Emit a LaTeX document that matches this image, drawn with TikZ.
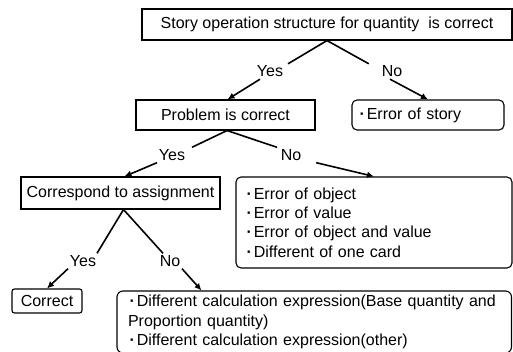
\documentclass[tikz,border=0pt]{standalone}
\usepackage{fontspec}
\setmainfont{Liberation Sans}
\usetikzlibrary{arrows.meta}
\newcommand\fs{\fontsize{16}{19.2}\selectfont}
\newcommand\bul{\makebox[0.55em][c]{\textbf{·}}}
\begin{document}
\begin{tikzpicture}[x=1pt,y=-1pt,
  box/.style={draw, line width=1.1pt, inner sep=0pt, font=\fs},
  rbox/.style={box, rounded corners=5pt},
  lbl/.style={inner sep=0pt, minimum width=50pt, minimum height=15pt, font=\fs},
  conn/.style={line width=1.6pt},
  arr/.style={conn, -{Latex[length=7pt,width=6.5pt]}}]
\useasboundingbox (0,0) rectangle (513,352);
% boxes
\node[box, minimum width=370pt, minimum height=31pt] (top) at (327,24.5)
  {Story operation structure for quantity\ \ is correct};
\node[box, minimum width=179pt, minimum height=30pt] (prob) at (225.5,115) {Problem is correct};
\node[rbox, minimum height=30pt, text width=140pt, inner xsep=6pt, align=left] (story) at (428,115)
  {\bul Error of story};
\node[box, minimum width=199pt, minimum height=32pt] (corr) at (120.5,193) {Correspond to assignment};
\node[rbox, minimum height=91pt, text width=258pt, inner xsep=9pt, align=left] (errs) at (374,222.5)
  {\bul Error of object\\ \bul Error of value\\ \bul Error of object and value\\ \bul Different of one card};
\node[box, rounded corners=2.5pt, minimum width=70pt, minimum height=24pt] (ok) at (47,301) {Correct};
\node[rbox, rounded corners=6pt, minimum height=62pt, text width=372.5pt, inner xsep=11pt, align=left] (bot) at (314.25,322)
  {\bul Different calculation expression(Base quantity and\\ Proportion quantity)\\ \bul Different calculation expression(other)};
% labels
\node[lbl] (y1) at (270,71.5) {Yes};
\node[lbl] (n1) at (392,71.5) {No};
\node[lbl] (y2) at (172,155) {Yes};
\node[lbl] (n2) at (291,155) {No};
\node[lbl] (y3) at (83,261) {Yes};
\node[lbl] (n3) at (170,261) {No};
% connectors
\draw[conn] (top.south) -- ([xshift=18pt]y1.north);
\draw[arr] ([xshift=-10pt]y1.south) -- ([xshift=2pt]prob.north);
\draw[conn] (top.south) -- ([xshift=2pt]n1.north west);
\draw[arr] ([xshift=-2pt]n1.south) -- (story.north);
\draw[conn] ([xshift=1.5pt]prob.south) -- ([xshift=20pt]y2.north);
\draw[arr] ([xshift=-15pt]y2.south) -- ([xshift=4pt]corr.north);
\draw[conn] ([xshift=1.5pt]prob.south) -- ([xshift=-14pt]n2.north);
\draw[arr] (n2.south east) -- (errs.north);
\draw[conn] ([xshift=3pt]corr.south) -- ([xshift=14pt]y3.north);
\draw[arr] ([xshift=-15pt]y3.south) -- (ok.north);
\draw[conn] ([xshift=3pt]corr.south) -- ([xshift=-7pt]n3.north);
\draw[arr] ([xshift=12pt]n3.south) -- ([xshift=85pt]bot.north west);
\end{tikzpicture}
\end{document}
